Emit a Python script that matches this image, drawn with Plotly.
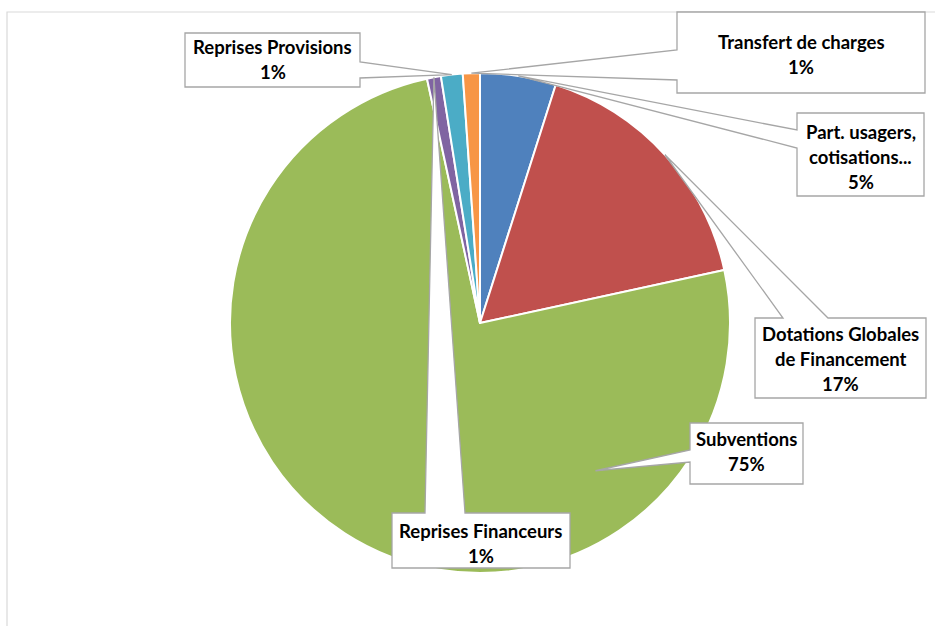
import math
import plotly.graph_objects as go

# ---- data ----
labels = ["Part. usagers,<br>cotisations...", "Dotations Globales<br>de Financement", "Subventions",
          "Reprises Financeurs", "Reprises Provisions", "Transfert de charges"]
values = [4.9, 16.7, 75.0, 0.9, 1.4, 1.1]
colors = ["#4F81BD", "#C0504D", "#9BBB59", "#8064A2", "#4BACC6", "#F79646"]

W, H = 935, 626
CX, CY, R = 480, 323, 250

# callout layout (pixel boxes): box, pointer side, pointer base, first text line y
callouts = {
    "Part. usagers,<br>cotisations...": dict(box=(797, 113, 924, 196), side="left", base=(130, 148), y=132),
    "Dotations Globales<br>de Financement": dict(box=(755, 318, 926, 398), side="top", base=(783, 828), y=334),
    "Subventions": dict(box=(690, 423, 803, 484), side="left", base=(450, 462), y=439, anchor=(142, 0.75)),
    "Reprises Financeurs": dict(box=(392, 513, 570, 568), side="top", base=(425, 465), y=531),
    "Reprises Provisions": dict(box=(185, 33, 360, 87), side="right", base=(62, 78), y=47),
    "Transfert de charges": dict(box=(677, 12, 925, 93), side="left", base=(50, 80), y=42),
}
LINE = 25


def px(x):
    return x / W


def py(y):
    return 1 - y / H


fig = go.Figure()
fig.add_trace(go.Pie(
    labels=labels, values=values, sort=False, direction="clockwise", rotation=0,
    marker=dict(colors=colors, line=dict(color="white", width=2)),
    textinfo="none", hoverinfo="skip", showlegend=False,
    domain=dict(x=[px(CX - R), px(CX + R)], y=[py(CY + R), py(CY - R)]),
))

shapes = []
# chart frame
shapes.append(dict(type="path", xref="paper", yref="paper",
                   path=f"M{px(7)},{py(640)} L{px(7)},{py(12)} L{px(940)},{py(12)}",
                   line=dict(color="#D9D9D9", width=1.2), layer="below"))

annotations = []
total = sum(values)
cum = 0.0
for lab, v in zip(labels, values):
    start = cum / total * 360
    cum += v
    end = cum / total * 360
    c = callouts[lab]
    ang, k = c.get("anchor", ((start + end) / 2, 1.0))
    ax = CX + R * k * math.sin(math.radians(ang))
    ay = CY - R * k * math.cos(math.radians(ang))
    x0, y0, x1, y1 = c["box"]
    a, b = c["base"]
    if c["side"] == "top":
        pts = [(x0, y0), (a, y0), (ax, ay), (b, y0), (x1, y0), (x1, y1), (x0, y1)]
    elif c["side"] == "right":
        pts = [(x0, y0), (x1, y0), (x1, a), (ax, ay), (x1, b), (x1, y1), (x0, y1)]
    else:
        pts = [(x0, y0), (x1, y0), (x1, y1), (x0, y1), (x0, b), (ax, ay), (x0, a)]
    path = "M" + " L".join(f"{px(x):.5f},{py(y):.5f}" for x, y in pts) + " Z"
    shapes.append(dict(type="path", xref="paper", yref="paper", path=path,
                       fillcolor="white", line=dict(color="#A6A6A6", width=1.3), layer="above"))
    lines = lab.split("<br>") + [f"{round(v / total * 100)}%"]
    for i, t in enumerate(lines):
        annotations.append(dict(x=px((x0 + x1) / 2), y=py(c["y"] + i * LINE), xref="paper", yref="paper",
                                text=t, showarrow=False, xanchor="center", yanchor="middle",
                                font=dict(family="Lato", size=18.5, color="black", weight="bold")))

fig.update_layout(width=W, height=H, margin=dict(l=0, r=0, t=0, b=0),
                  paper_bgcolor="white", plot_bgcolor="white",
                  shapes=shapes, annotations=annotations)
fig.write_html("out.html", config={"displayModeBar": False},
               post_script="document.body.style.margin='0';")
